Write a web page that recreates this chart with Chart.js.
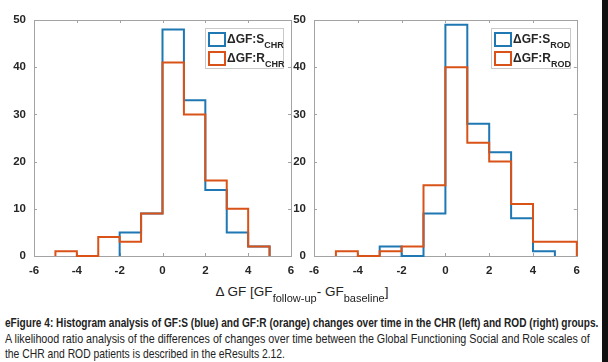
<!DOCTYPE html>
<html>
<head>
<meta charset="utf-8">
<script src="https://cdn.jsdelivr.net/npm/chart.js@4.4.1/dist/chart.umd.min.js"></script>
<style>
html,body{margin:0;padding:0;background:#fff;width:608px;height:362px;overflow:hidden;font-family:"Liberation Sans",Arial,sans-serif;}
canvas.plot{position:absolute;top:0;}
#edge{position:absolute;left:602px;top:0;width:6px;height:362px;background:#111;}
.legend{position:absolute;top:28px;height:41px;box-sizing:border-box;border:1px solid #c9c9c9;background:#fff;}
.icon{position:absolute;width:18px;height:15px;box-sizing:border-box;border:2px solid;background:#fff;}
.ltext{position:absolute;font-weight:bold;font-size:12px;line-height:12px;color:#262626;white-space:nowrap;}
.ltext .sub{position:relative;top:5px;font-size:9px;}
#xtitle{position:absolute;left:0;top:285px;width:604px;text-align:center;font-size:13.5px;line-height:14px;color:#222;white-space:nowrap;}
#xtitle .sub{position:relative;top:6px;font-size:11px;}
.cap{position:absolute;left:5px;font-size:13px;line-height:15px;color:#222;white-space:nowrap;transform-origin:0 0;}
</style>
</head>
<body>
<canvas id="chr" class="plot" width="300" height="280" style="left:0"></canvas>
<canvas id="rod" class="plot" width="300" height="280" style="left:280px"></canvas>
<div id="legendChr" class="legend" style="left:205px;width:79px"></div>
<div id="legendRod" class="legend" style="left:491px;width:80px"></div>
<div id="xtitle">&Delta; GF [GF<span class="sub">follow-up</span>- GF<span class="sub">baseline</span>]</div>
<div class="cap" id="cap1" style="top:315px;font-weight:bold">eFigure 4: Histogram analysis of GF:S (blue) and GF:R (orange) changes over time in the CHR (left) and ROD (right) groups.</div>
<div class="cap" id="cap2" style="top:331px">A likelihood ratio analysis of the differences of changes over time between the Global Functioning Social and Role scales of</div>
<div class="cap" id="cap3" style="top:346px">the CHR and ROD patients is described in the eResults 2.12.</div>
<div id="edge"></div>
<script>
const xTicks = [-6, -4, -2, 0, 2, 4, 6];
const yTicks = [0, 10, 20, 30, 40, 50];
const binWidth = 1;

// CHR (left) histogram counts, first bin edge + counts per unit bin
const chrSStart = -2;
const chrSCounts = [5, 9, 48, 33, 14, 5, 2];
const chrRStart = -5;
const chrRCounts = [1, 0, 4, 3, 9, 41, 30, 16, 10, 2];

// ROD (right)
const rodSStart = -3;
const rodSCounts = [2, 0, 9, 49, 28, 22, 8, 1];
const rodRStart = -5;
const rodRCounts = [1, 0, 1, 2, 15, 40, 24, 20, 11, 3, 3];

const blue = '#1f77b4', orange = '#d95319';
const tickFont = { family: '"Liberation Sans", Arial, sans-serif', size: 11.5, weight: 'bold' };

// outline points of a stairs-style histogram
function stairs(start, counts){
  const pts = [{ x: start, y: 0 }];
  counts.forEach((c, i) => {
    pts.push({ x: start + i * binWidth, y: c });
    pts.push({ x: start + (i + 1) * binWidth, y: c });
  });
  pts.push({ x: start + counts.length * binWidth, y: 0 });
  return pts;
}

const boxPlugin = {
  id: 'box',
  beforeDatasetsDraw(chart){
    const { ctx, chartArea: a, scales } = chart;
    ctx.save();
    ctx.strokeStyle = '#a3a3a3';
    ctx.lineWidth = 1;
    ctx.strokeRect(Math.round(a.left) + 0.5, Math.round(a.top) + 0.5, Math.round(a.right - a.left), Math.round(a.bottom - a.top));
    ctx.beginPath();
    xTicks.forEach(v => {
      const px = Math.round(scales.x.getPixelForValue(v)) + 0.5;
      ctx.moveTo(px, a.bottom); ctx.lineTo(px, a.bottom - 3);
      ctx.moveTo(px, a.top); ctx.lineTo(px, a.top + 3);
    });
    yTicks.forEach(v => {
      const py = Math.round(scales.y.getPixelForValue(v)) + 0.5;
      ctx.moveTo(a.left, py); ctx.lineTo(a.left + 3, py);
      ctx.moveTo(a.right, py); ctx.lineTo(a.right - 3, py);
    });
    ctx.stroke();
    ctx.restore();
  }
};

function makeChart(id, sData, rData, padRight){
  return new Chart(document.getElementById(id), {
    type: 'line',
    data: { datasets: [
      { data: sData, borderColor: blue, order: 2, clip: false },
      { data: rData, borderColor: orange, order: 1, clip: false }
    ] },
    options: {
      responsive: false, animation: false,
      layout: { padding: { top: 20, right: padRight, left: 0, bottom: 0 } },
      plugins: { legend: { display: false }, tooltip: { enabled: false } },
      elements: { point: { radius: 0 }, line: { tension: 0, borderWidth: 2, borderJoinStyle: 'miter', fill: false } },
      scales: {
        x: {
          type: 'linear', min: -6, max: 6,
          afterBuildTicks: s => { s.ticks = xTicks.map(v => ({ value: v })); },
          afterFit: s => { s.height = 24; },
          grid: { display: false }, border: { display: false },
          ticks: { font: tickFont, color: '#262626', padding: 0, maxRotation: 0, autoSkip: false }
        },
        y: {
          min: 0, max: 50,
          afterBuildTicks: s => { s.ticks = yTicks.map(v => ({ value: v })); },
          afterFit: s => { s.width = 34; },
          grid: { display: false }, border: { display: false },
          ticks: { font: tickFont, color: '#262626', padding: 0 }
        }
      }
    },
    plugins: [boxPlugin]
  });
}

makeChart('chr', stairs(chrSStart, chrSCounts), stairs(chrRStart, chrRCounts), 9);
makeChart('rod', stairs(rodSStart, rodSCounts), stairs(rodRStart, rodRCounts), 1);

// legends with subscripts
function buildLegend(el, group){
  const items = [['S', blue, 3], ['R', orange, 22]];
  items.forEach(([name, color, top]) => {
    const ic = document.createElement('div');
    ic.className = 'icon';
    ic.style.cssText = 'left:2px;top:' + top + 'px;border-color:' + color;
    el.appendChild(ic);
    const t = document.createElement('div');
    t.className = 'ltext';
    t.style.cssText = 'left:21px;top:' + (top + 1) + 'px';
    t.innerHTML = '&Delta;GF:' + name + '<span class="sub">' + group + '</span>';
    el.appendChild(t);
  });
}
buildLegend(document.getElementById('legendChr'), 'CHR');
buildLegend(document.getElementById('legendRod'), 'ROD');

// fit caption lines to their widths in the figure
[['cap1', 593], ['cap2', 585], ['cap3', 280]].forEach(([id, w]) => {
  const el = document.getElementById(id);
  el.style.transform = 'scaleX(' + (w / el.scrollWidth) + ')';
});
</script>
</body>
</html>
